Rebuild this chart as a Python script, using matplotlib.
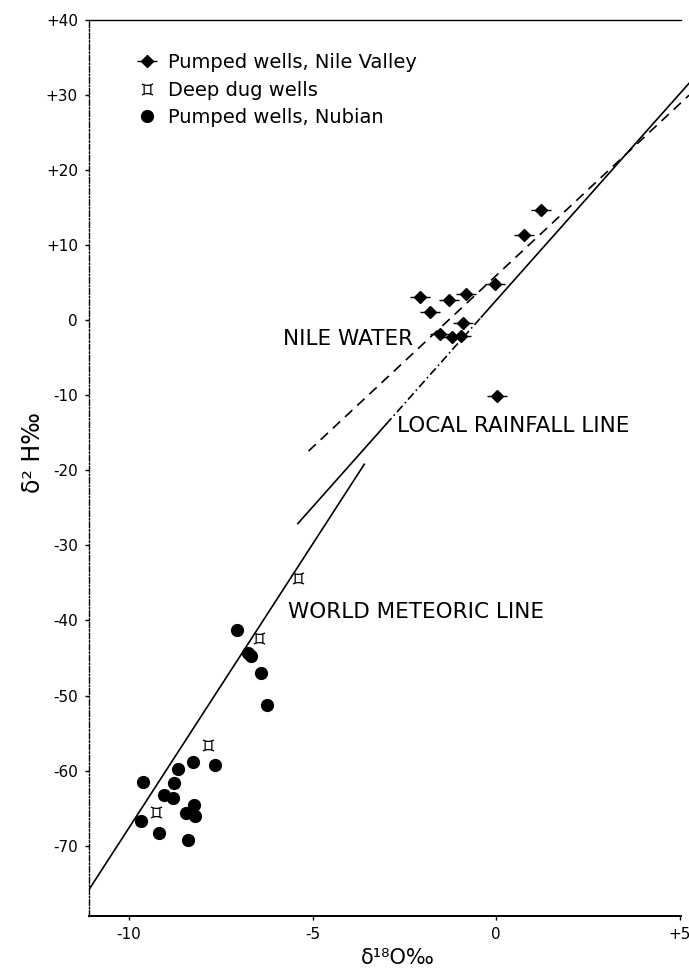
import matplotlib
matplotlib.use('Agg')
import matplotlib.pyplot as plt
import numpy as np
from matplotlib.lines import Line2D
from matplotlib.path import Path

# Pumped wells, Nile Valley (d18O, d2H)
nile_d18o = [1.23, 0.77, -0.03, -0.82, -1.27, -2.07, -1.80, -0.91, -1.53, -1.21, -0.95, 0.02]
nile_d2h = [14.7, 11.3, 4.8, 3.5, 2.6, 3.0, 1.1, -0.4, -1.9, -2.3, -2.1, -10.1]

# Deep dug wells
dug_d18o = [-5.39, -6.46, -7.86, -9.26]
dug_d2h = [-34.4, -42.4, -56.6, -65.5]

# Pumped wells, Nubian
nub_d18o = [-8.26, -7.66, -8.66, -9.63, -8.77, -9.06, -8.79, -8.23, -8.45, -8.20,
            -9.68, -9.17, -8.40, -7.05, -6.75, -6.68, -6.41, -6.23]
nub_d2h = [-58.9, -59.3, -59.8, -61.5, -61.7, -63.2, -63.7, -64.6, -65.7, -66.0,
           -66.7, -68.3, -69.2, -41.3, -44.4, -44.7, -47.0, -51.2]

# reference lines: d2H = slope * d18O + intercept
world_slope, world_intercept = 7.55, 7.9
world_x = [-11.09, -3.59]
local_slope, local_intercept = 5.5, 2.6
local_breaks = [-5.40, -3.0, -0.4, 5.26]   # solid / dash-dot / solid
nile_slope, nile_intercept = 4.57, 5.9
nile_x = [-5.11, 5.26]

xticks = [-10, -5, 0, 5]
xtick_labels = ['-10', '-5', '0', '+5']
yticks = [40, 30, 20, 10, 0, -10, -20, -30, -40, -50, -60, -70]
ytick_labels = ['+40', '+30', '+20', '+10', '0', '-10', '-20', '-30', '-40', '-50', '-60', '-70']

legend_labels = ['Pumped wells, Nile Valley', 'Deep dug wells', 'Pumped wells, Nubian']

# spool-like symbol used for the dug wells
dug_marker = Path(
    [(-1, 1), (0, 0.45), (1, 1),
     (-1, -1), (0, -0.45), (1, -1),
     (-0.6, 0.75), (-0.6, -0.75),
     (0.6, 0.75), (0.6, -0.75)],
    [Path.MOVETO, Path.CURVE3, Path.CURVE3,
     Path.MOVETO, Path.CURVE3, Path.CURVE3,
     Path.MOVETO, Path.LINETO,
     Path.MOVETO, Path.LINETO])

fig = plt.figure(figsize=(6.89, 9.75), dpi=100)
ax = fig.add_axes([0.1292, 0.0609, 0.8592, 0.919])
ax.set_xlim(-11.09, 5.04)
ax.set_ylim(-79.3, 40)

lw = 1.2
# world meteoric line
wx = np.array(world_x)
ax.plot(wx, world_slope * wx + world_intercept, color='black', lw=lw)

# local rainfall line, drawn in pieces
styles = ['-', (0, (5, 2, 1, 2)), '-']
for i, ls in enumerate(styles):
    lx = np.array(local_breaks[i:i + 2])
    ax.plot(lx, local_slope * lx + local_intercept, color='black', lw=lw, ls=ls, clip_on=False)

# nile water line
nx = np.array(nile_x)
ax.plot(nx, nile_slope * nx + nile_intercept, color='black', lw=lw, ls=(0, (6, 4)), clip_on=False)

# points
ax.plot(nile_d18o, nile_d2h, ls='none', marker='_', ms=15, mew=1.0, color='black')
ax.plot(nile_d18o, nile_d2h, ls='none', marker='D', ms=6.5, color='black')
ax.plot(dug_d18o, dug_d2h, ls='none', marker=dug_marker, ms=8, mfc='none', mec='black', mew=0.9)
ax.plot(nub_d18o, nub_d2h, ls='none', marker='o', ms=8.5, color='black')

# labels on the lines
ax.text(-2.26, -2.5, 'NILE WATER', ha='right', va='center', fontsize=15.5)
ax.text(-2.70, -14.1, 'LOCAL RAINFALL LINE', ha='left', va='center', fontsize=15.5)
ax.text(-5.67, -38.9, 'WORLD METEORIC LINE', ha='left', va='center', fontsize=15.5)

# legend
h_nile = (Line2D([], [], ls='none', marker='_', ms=15, mew=1.0, color='black'),
          Line2D([], [], ls='none', marker='D', ms=6.5, color='black'))
h_dug = Line2D([], [], ls='none', marker=dug_marker, ms=8, mfc='none', mec='black', mew=0.9)
h_nub = Line2D([], [], ls='none', marker='o', ms=8.5, color='black')
ax.legend([h_nile, h_dug, h_nub], legend_labels, loc='upper left',
          bbox_to_anchor=(0.081, 0.963), frameon=False, fontsize=14,
          handlelength=1.05, handletextpad=0.55, labelspacing=0.45,
          borderpad=0, borderaxespad=0)

# axes styling
ax.set_xticks(xticks)
ax.set_xticklabels(xtick_labels)
ax.set_yticks(yticks)
ax.set_yticklabels(ytick_labels)
ax.tick_params(direction='out', length=3, width=1, labelsize=11, pad=5)
ax.spines['right'].set_visible(False)
ax.spines['left'].set_linestyle((0, (4, 1.5, 1, 1.5)))
ax.spines['left'].set_linewidth(1.0)
ax.spines['top'].set_linewidth(1.0)
ax.spines['bottom'].set_linewidth(1.4)

fig.text(33 / 689, 1 - 453 / 975, 'δ² H‰', rotation=90, ha='center', va='center', fontsize=17)
fig.text(398 / 689, 1 - 958 / 975, 'δ¹⁸O‰', ha='center', va='center', fontsize=15)

fig.savefig('out.png', dpi=100)
